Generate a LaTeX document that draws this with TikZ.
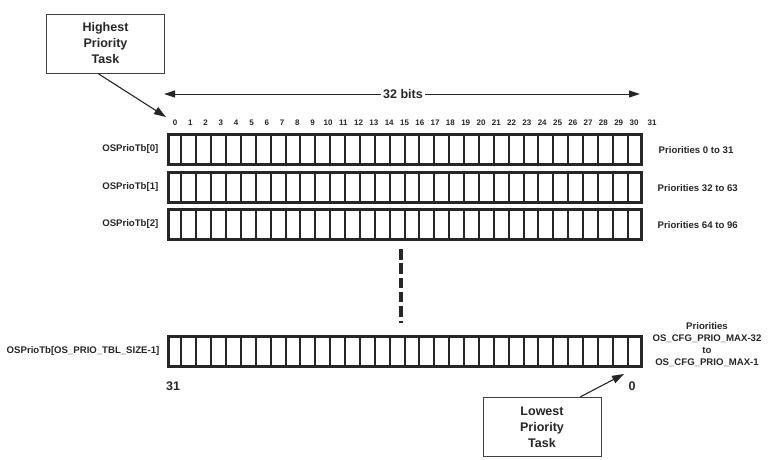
\documentclass[tikz,border=0pt]{standalone}
\usepackage{fontspec}
\setmainfont{Liberation Sans}
\usetikzlibrary{arrows.meta,calc}
\begin{document}
\begin{tikzpicture}[x=1pt,y=-1pt,
  rowbox/.style={draw=black!85, line width=3pt, minimum width=473pt, minimum height=30pt, inner sep=0pt, anchor=north west, fill=white},
  divider/.style={draw=black!85, line width=2pt},
  bitnum/.style={font=\fontsize{8}{9}\selectfont\bfseries, inner sep=0pt, text=black!85},
  rowlab/.style={font=\fontsize{9.6}{12}\selectfont\bfseries, inner sep=0pt, text=black!85},
  biglab/.style={font=\fontsize{12.5}{15}\selectfont\bfseries, inner sep=0pt, text=black!85},
  callout/.style={draw=black!75, line width=1pt, minimum width=118pt, minimum height=59pt, align=center, font=\fontsize{12.5}{16}\selectfont\bfseries, text=black!85, fill=white},
  callarrow/.style={draw=black!85, line width=1.1pt, -{Triangle[length=12pt,width=8pt]}},
  widtharrow/.style={draw=black!85, line width=1pt, {Triangle[length=11pt,width=7pt]}-{Triangle[length=11pt,width=7pt]}},
  dots/.style={draw=black!85, line width=3.5pt, dash pattern=on 10.5pt off 3.8pt}
]
\useasboundingbox (0,0) rectangle (771,459);

% rows
\node[rowbox] (r0) at (166.5,132.5) {};
\node[rowbox] (r1) at (166.5,170.5) {};
\node[rowbox] (r2) at (166.5,207.5) {};
\node[rowbox] (rN) at (166.5,334.5) {};
\foreach \r in {r0,r1,r2,rN}{
  \foreach \k in {1,...,31}{
    \draw[divider] ($(\r.north west)!\k/32!(\r.north east)$) -- ($(\r.south west)!\k/32!(\r.south east)$);
  }
}

% bit numbers
\foreach \i in {0,...,30}{
  \node[bitnum] (b\i) at (175+15.3*\i,123) {\i};
}
\node[bitnum] (b31) at (652,123) {31};

% width arrow
\coordinate (wl) at (164,94);
\coordinate (wr) at (640,94);
\draw[widtharrow] (wl) -- (wr);
\node[biglab, fill=white, inner xsep=2pt, inner ysep=1pt] (wlab) at (403,94) {32 bits};

% row labels
\node[rowlab, anchor=east] (l0) at ([xshift=-8pt]r0.west) {OSPrioTb[0]};
\node[rowlab, anchor=east] (l1) at ([xshift=-8pt]r1.west) {OSPrioTb[1]};
\node[rowlab, anchor=east] (l2) at ([xshift=-8pt]r2.west) {OSPrioTb[2]};
\node[rowlab, anchor=east] (lN) at ([xshift=-7pt]rN.west) {OSPrioTb[OS\_PRIO\_TBL\_SIZE-1]};

% right labels
\node[rowlab, anchor=west] (p0) at ([xshift=16pt,yshift=-1pt]r0.east) {Priorities 0 to 31};
\node[rowlab, anchor=west] (p1) at ([xshift=15pt,yshift=-1pt]r1.east) {Priorities 32 to 63};
\node[rowlab, anchor=west] (p2) at ([xshift=15pt,yshift=-1pt]r2.east) {Priorities 64 to 96};
\node[rowlab, align=center] (pN) at (707,345) {Priorities\\OS\_CFG\_PRIO\_MAX-32\\to\\OS\_CFG\_PRIO\_MAX-1};

% ellipsis
\coordinate (d1) at (401,249);
\coordinate (d2) at (401,323);
\draw[dots] (d1) -- (d2);

% bottom numbers
\node[biglab] (n31) at (173,386) {31};
\node[biglab] (n0) at (632,386) {0};

% callouts
\node[callout] (hi) at (105.5,43.5) {Highest\\Priority\\Task};
\node[callout] (lo) at (542,427) {Lowest\\Priority\\Task};
\coordinate (hitip) at (166,117);
\coordinate (lotip) at (624,374);
\draw[callarrow] ([xshift=-7.5pt]hi.south) -- (hitip);
\draw[callarrow] ([xshift=38pt]lo.north) -- (lotip);
\end{tikzpicture}
\end{document}
